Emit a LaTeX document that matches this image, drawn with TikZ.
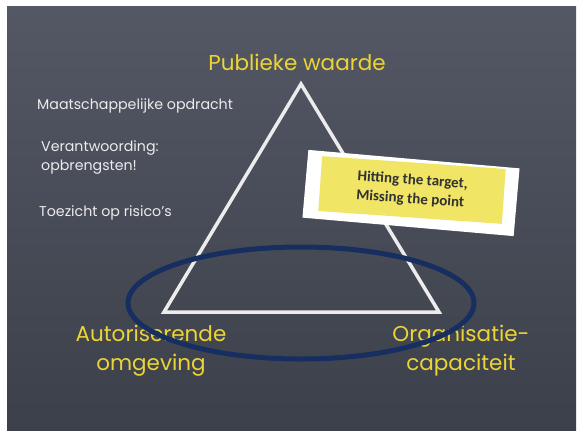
\documentclass[tikz,border=0pt]{standalone}
\usepackage{fontspec}
\setmainfont{Poppins}
\newfontfamily\cardfont{Carlito}
\definecolor{boardtop}{RGB}{84,88,101}
\definecolor{boardbot}{RGB}{60,64,74}
\definecolor{chalkyellow}{RGB}{236,212,52}
\definecolor{chalkwhite}{RGB}{236,236,236}
\definecolor{ringblue}{RGB}{22,46,96}
\definecolor{notey}{RGB}{241,229,102}
\definecolor{notetext}{RGB}{50,50,50}
\tikzset{
  biglabel/.style={text=chalkyellow, font=\fontsize{21.5}{29}\selectfont, align=center, inner sep=0pt},
  smalllabel/.style={text=chalkwhite, font=\fontsize{14.2}{19}\selectfont, align=left, inner sep=0pt, anchor=west},
  chalkline/.style={draw=chalkwhite, line width=3.5pt, line join=miter},
  ringline/.style={draw=ringblue, line width=5pt},
  notebox/.style={fill=notey, minimum width=184pt, minimum height=55pt, inner sep=0pt,
    text=notetext, font=\cardfont\bfseries\fontsize{15}{19}\selectfont, align=left}
}
\begin{document}
\begin{tikzpicture}[x=1pt,y=-1pt]
\useasboundingbox (0,0) rectangle (578,434);
\fill[white] (0,0) rectangle (578,434);
\shade[top color=boardtop, bottom color=boardbot] (7,6) rectangle (576,430);
% triangle
\coordinate (A) at (301,84);
\coordinate (B) at (164,312);
\coordinate (C) at (439,312);
\draw[chalkline] (A) -- (B) -- (C) -- cycle;
% labels
\node[biglabel] (pw) at (297,62) {Publieke waarde};
\node[biglabel] (ao) at (151,351) {Autoriserende\\omgeving};
\node[biglabel] (oc) at (461,351) {Organisatie-\\capaciteit};
\node[smalllabel] (mo) at (37,106) {Maatschappelijke opdracht};
\node[smalllabel] (ver) at (41,158) {Verantwoording:\\opbrengsten!};
\node[smalllabel] (toe) at (39,213) {Toezicht op risico's};
% card with note
\fill[white, rotate around={-5:(411,193)}] (305,159) rectangle (517,227);
\node[notebox, rotate=-4] (note) at (412,190) {Hitting the target,\\Missing the point};
% ring
\draw[ringline] (301,303) ellipse [x radius=173, y radius=56];
\end{tikzpicture}
\end{document}
